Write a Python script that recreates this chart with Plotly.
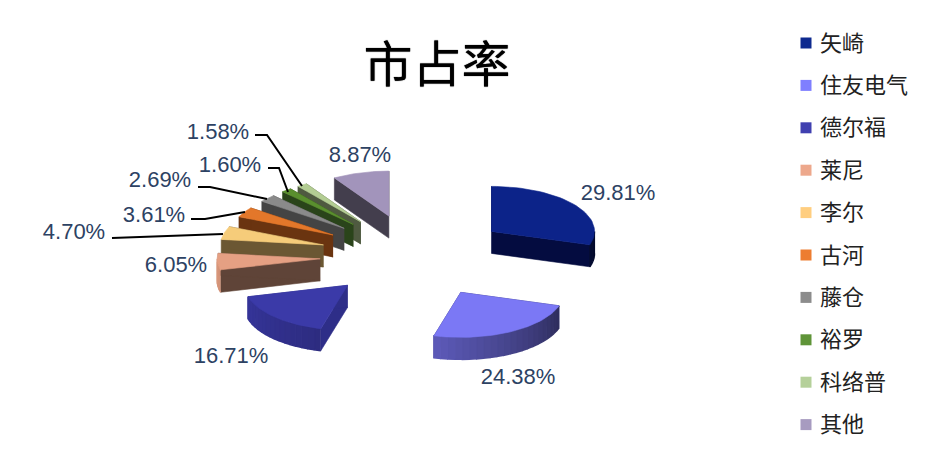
import numpy as np
import plotly.graph_objects as go

# data
names = ["矢崎", "住友电气", "德尔福", "莱尼", "李尔", "古河", "藤仓", "裕罗", "科络普", "其他"]
shares = [29.81, 24.38, 16.71, 6.05, 4.70, 3.61, 2.69, 1.60, 1.58, 8.87]

# styles
top_colors = ["#0c2389", "#7b78f5", "#3b3aa8", "#e5a083", "#f6cc7a",
              "#e3772a", "#8a8a8a", "#5a8f2e", "#b3cd93", "#a294bb"]
side_colors = ["#040c40", "#2f2e6e", "#2e2e88", "#5f4438", "#6b5733",
               "#6a3410", "#444444", "#2a441a", "#4f5a40", "#433e4d"]
legend_colors = ["#0e2a8f", "#7f7fff", "#4040b0", "#eda88c", "#ffce80",
                 "#ed7d31", "#8c8c8c", "#5f9438", "#b5d09a", "#a79bc0"]

# label spots, pixels
label_x = [618, 518, 231, 176, 74, 154, 160, 230, 218, 360]
label_y = [194, 378, 357, 266, 233, 216, 181, 166, 133, 156]

# fake 3d pie geometry
cx, cy = 415, 256
rx, ry = 103, 45
ex, ey = 95, 41.5
depth = 22


def shade(color, f):
    r, g, b = int(color[1:3], 16), int(color[3:5], 16), int(color[5:7], 16)
    return f"rgb({int(r * f)},{int(g * f)},{int(b * f)})"


def rim_light(a):
    return float(np.interp(a, [90, 200, 270], [0.3, 0.78, 0.95]))


def poly(xs, ys, color, width=0.6):
    return go.Scatter(x=xs, y=ys, mode="lines", fill="toself", fillcolor=color,
                      line=dict(color=color, width=width), hoverinfo="skip", showlegend=False)


fig = go.Figure()

ends = np.cumsum(shares) / 100 * 360
starts = np.concatenate([[0], ends[:-1]])
mids = (starts + ends) / 2

# back to front
for i in np.argsort(-np.cos(np.radians(mids))):
    a1, a2, m = starts[i], ends[i], np.radians(mids[i])
    ax = cx + ex * np.sin(m)
    ay = cy - ey * np.cos(m)
    t = np.radians(np.linspace(a1, a2, 40))
    rim_x = ax + rx * np.sin(t)
    rim_y = ay - ry * np.cos(t)

    # radial faces
    for a in (a1, a2):
        px = ax + rx * np.sin(np.radians(a))
        py = ay - ry * np.cos(np.radians(a))
        fig.add_trace(poly([ax, px, px, ax], [ay, py, py + depth, ay + depth], side_colors[i]))

    # outer rim, strip by strip so the shade can change
    lo, hi = max(a1, 90), min(a2, 270)
    if hi > lo:
        steps = np.linspace(lo, hi, int((hi - lo) / 4) + 2)
        for s1, s2 in zip(steps[:-1], steps[1:]):
            q = np.radians([s1, s2])
            qx = ax + rx * np.sin(q)
            qy = ay - ry * np.cos(q)
            fig.add_trace(poly([qx[0], qx[1], qx[1], qx[0]],
                               [qy[0], qy[1], qy[1] + depth, qy[0] + depth],
                               shade(top_colors[i], rim_light((s1 + s2) / 2)), width=1.5))

    fig.add_trace(poly(np.r_[ax, rim_x, ax], np.r_[ay, rim_y, ay], top_colors[i]))

# percent labels
fig.add_trace(go.Scatter(
    x=label_x, y=label_y, mode="text",
    text=[f"{v:.2f}%" for v in shares],
    textfont=dict(family="Liberation Sans", size=22, color="#2d4263"),
    hoverinfo="skip", showlegend=False,
))

# legend column
legend_y = [43 + 42.4 * i for i in range(len(names))]
fig.add_trace(go.Scatter(
    x=[806] * len(names), y=legend_y, mode="markers",
    marker=dict(symbol="square", size=11, color=legend_colors),
    hoverinfo="skip", showlegend=False,
))
fig.add_trace(go.Scatter(
    x=[820] * len(names), y=[v + 2 for v in legend_y], mode="text",
    text=names, textposition="middle right",
    textfont=dict(family="Noto Sans CJK SC", size=22, color="#222222"),
    hoverinfo="skip", showlegend=False,
))

# leader lines
leaders = [
    "M255,135 L267,135 L302,186",
    "M268,168 L279,168 L288,192",
    "M198,187 L210,187 L267,199",
    "M191,219 L205,219 L245,212",
    "M112,238 L223,234",
]
shapes = [dict(type="path", path=p, xref="x", yref="y", line=dict(color="black", width=2))
          for p in leaders]

fig.update_layout(
    width=927, height=450,
    margin=dict(l=0, r=0, t=0, b=0),
    paper_bgcolor="white", plot_bgcolor="white",
    xaxis=dict(range=[0, 927], visible=False, fixedrange=True),
    yaxis=dict(range=[450, 0], visible=False, fixedrange=True),
    shapes=shapes,
    title=dict(text="市占率", x=437 / 927, y=1 - 65 / 450, xanchor="center", yanchor="middle",
               font=dict(family="Noto Sans CJK SC", size=49, color="black", shadow="0 0 1px black")),
    showlegend=False,
)

fig.write_html("out.html", config=dict(displayModeBar=False),
               post_script="document.body.style.margin='0';document.body.style.overflow='hidden';")
